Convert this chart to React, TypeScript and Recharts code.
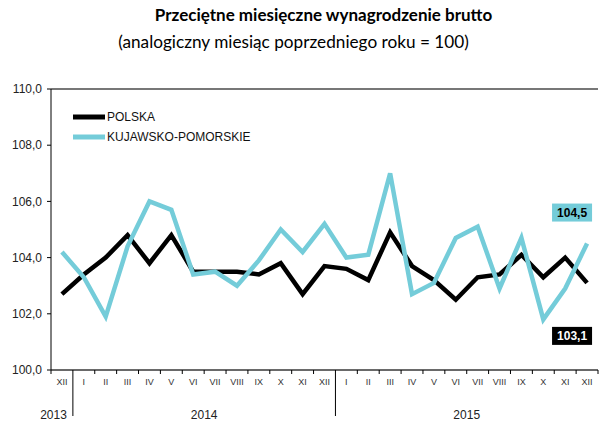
import React from 'react'
import {
  LineChart,
  Line,
  XAxis,
  YAxis,
  CartesianGrid,
  Legend,
  LabelList,
  ReferenceLine,
} from 'recharts'

const months = ['XII', 'I', 'II', 'III', 'IV', 'V', 'VI', 'VII', 'VIII', 'IX', 'X', 'XI', 'XII',
  'I', 'II', 'III', 'IV', 'V', 'VI', 'VII', 'VIII', 'IX', 'X', 'XI', 'XII']
const years = ['2013',
  '2014', '2014', '2014', '2014', '2014', '2014', '2014', '2014', '2014', '2014', '2014', '2014',
  '2015', '2015', '2015', '2015', '2015', '2015', '2015', '2015', '2015', '2015', '2015', '2015']
const polska = [102.7, 103.4, 104.0, 104.8, 103.8, 104.8, 103.5, 103.5, 103.5, 103.4, 103.8, 102.7, 103.7,
  103.6, 103.2, 104.9, 103.7, 103.2, 102.5, 103.3, 103.4, 104.1, 103.3, 104.0, 103.1]
const kujawsko = [104.2, 103.3, 101.9, 104.4, 106.0, 105.7, 103.4, 103.5, 103.0, 103.9, 105.0, 104.2, 105.2,
  104.0, 104.1, 107.0, 102.7, 103.1, 104.7, 105.1, 102.9, 104.7, 101.8, 102.9, 104.5]
const yTicks = [100, 102, 104, 106, 108, 110]

const data = months.map((m, i) => ({
  key: `${m}-${years[i]}`,
  polska: polska[i],
  kujawsko: kujawsko[i],
}))

const W = 615
const H = 431
const M = { top: 89, right: 17, bottom: 0, left: 6 }
const Y_W = 45
const X_H = 61
const plotW = W - M.left - M.right - Y_W
const band = plotW / months.length
const CYAN = '#74CCD9'
const FONT = '"Liberation Sans", Arial, sans-serif'

const fmt = (v: number) => v.toFixed(1).replace('.', ',')

function MonthTick(props: any) {
  const { x, y, index } = props
  const left = x - band / 2
  const isYearStart = index > 0 && years[index] !== years[index - 1]
  const last = index === months.length - 1
  return (
    <g>
      <line x1={left} x2={left} y1={y} y2={isYearStart ? y + 46 : y + 4} stroke="#000" strokeWidth={1} />
      {last && <line x1={x + band / 2} x2={x + band / 2} y1={y} y2={y + 4} stroke="#000" />}
      <text x={x} y={y + 15} textAnchor="middle" fontSize={9} fill="#333" fontFamily={FONT}>
        {months[index]}
      </text>
      {index === 0 && (
        <text x={x + band / 2 - 6} y={y + 49} textAnchor="end" fontSize={12} fill="#222" fontFamily={FONT}>
          {years[index]}
        </text>
      )}
      {months[index] === 'VI' && (
        <text x={x + band / 2} y={y + 49} textAnchor="middle" fontSize={12} fill="#222" fontFamily={FONT}>
          {years[index]}
        </text>
      )}
    </g>
  )
}

function endLabel(bg: string, fg: string, dy: number) {
  return (props: any) => {
    const { x, y, value, index } = props
    if (index !== months.length - 1) return null
    const cx = x - 15
    const cy = y + dy
    return (
      <g>
        <rect x={cx - 20} y={cy - 9} width={40} height={18} fill={bg} />
        <text x={cx} y={cy + 4} textAnchor="middle" fontSize={12} fontWeight="bold" fill={fg} fontFamily={FONT}>
          {fmt(value)}
        </text>
      </g>
    )
  }
}

function LegendBox() {
  const rows = [
    { name: 'POLSKA', color: '#000' },
    { name: 'KUJAWSKO-POMORSKIE', color: CYAN },
  ]
  return (
    <div style={{ background: '#fff', width: 208, padding: '8px 0 6px 0', fontFamily: FONT, fontSize: 12 }}>
      {rows.map((r) => (
        <div key={r.name} style={{ display: 'flex', alignItems: 'center', height: 20 }}>
          <svg width={47} height={8}>
            <line x1={13} x2={45} y1={4} y2={4} stroke={r.color} strokeWidth={5} />
          </svg>
          <span style={{ color: '#111' }}>{r.name}</span>
        </div>
      ))}
    </div>
  )
}

export default function App() {
  return (
    <div style={{ position: 'absolute', left: 0, top: 0, width: W, height: H, background: '#fff' }}>
      <div style={{ position: 'absolute', left: 0, width: 647, top: 4, textAlign: 'center', fontFamily: 'Lato, sans-serif', fontWeight: 'bold', fontSize: 17 }}>
        Przeciętne miesięczne wynagrodzenie brutto
      </div>
      <div style={{ position: 'absolute', left: 0, width: 587, top: 31, textAlign: 'center', fontFamily: 'Lato, sans-serif', fontSize: 17.2 }}>
        (analogiczny miesiąc poprzedniego roku = 100)
      </div>
      <div style={{ position: 'absolute', left: 0, top: 0 }}>
        <LineChart width={W} height={H} data={data} margin={M}>
          <CartesianGrid horizontal vertical={false} stroke="#a6a6a6" />
          <XAxis
            dataKey="key"
            interval={0}
            height={X_H}
            tickSize={0}
            tickMargin={0}
            tickLine={false}
            axisLine={{ stroke: '#000' }}
            padding={{ left: band / 2, right: band / 2 }}
            tick={<MonthTick />}
          />
          <YAxis
            yAxisId="l"
            domain={[100, 110]}
            ticks={yTicks}
            width={Y_W}
            tickSize={4}
            tickMargin={5}
            tickFormatter={fmt}
            axisLine={{ stroke: '#000' }}
            tickLine={{ stroke: '#000' }}
            tick={{ fontSize: 12, fill: '#222', fontFamily: FONT }}
          />
          <YAxis yAxisId="r" orientation="right" width={0} domain={[100, 110]} tick={false} axisLine={{ stroke: '#595959', strokeWidth: 1.5 }} />
          <ReferenceLine yAxisId="l" y={110} stroke="#595959" strokeWidth={1.5} />
          <Legend
            verticalAlign="middle"
            align="center"
            layout="horizontal"
            content={<LegendBox />}
            wrapperStyle={{ left: 60, top: 99, width: 'auto' }}
          />
          <Line
            yAxisId="l"
            dataKey="polska"
            stroke="#000"
            strokeWidth={4.5}
            dot={false}
            isAnimationActive={false}
          >
            <LabelList dataKey="polska" content={endLabel('#000', '#fff', 53)} />
          </Line>
          <Line
            yAxisId="l"
            dataKey="kujawsko"
            stroke={CYAN}
            strokeWidth={4.5}
            dot={false}
            isAnimationActive={false}
          >
            <LabelList dataKey="kujawsko" content={endLabel(CYAN, '#000', -31)} />
          </Line>
        </LineChart>
      </div>
    </div>
  )
}
